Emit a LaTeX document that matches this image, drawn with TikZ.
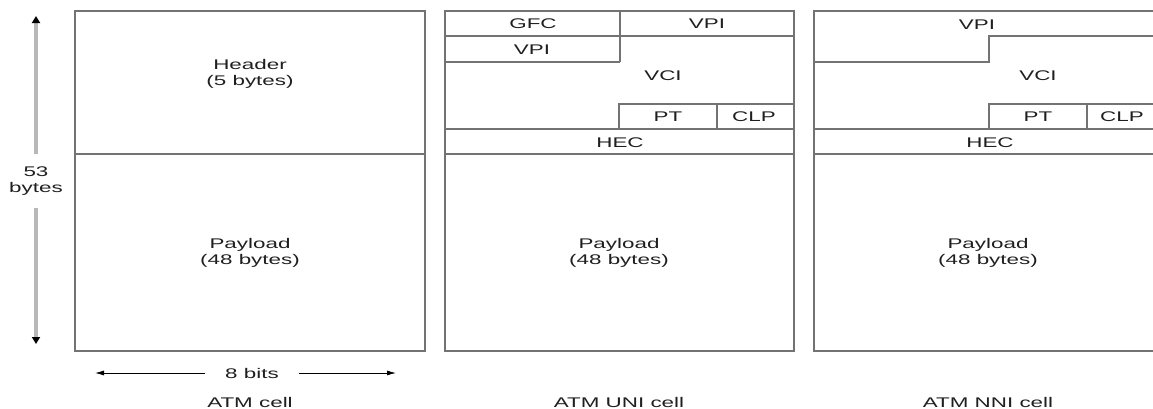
\documentclass[tikz,border=0pt]{standalone}
\usepackage{fontspec}
\usepackage{graphicx}
\setmainfont{Liberation Sans}
\usetikzlibrary{arrows.meta}
\definecolor{boxline}{gray}{0.45}
\definecolor{shaft}{gray}{0.72}
\definecolor{ink}{gray}{0.12}
\newcommand\wt[1]{\scalebox{1.6}[1]{#1}}
\begin{document}
\begin{tikzpicture}[x=1pt,y=-1pt,
  txt/.style={font=\fontsize{14}{16}\selectfont, text=ink, inner sep=0pt, align=center},
  cell/.style={draw=boxline, line width=1.3pt},
  shaftline/.style={draw=shaft, line width=3.5pt, -{Triangle[length=7pt,width=8pt,black]}},
  harrow/.style={draw=black, line width=0.8pt, -{Latex[length=9pt,width=5pt]}}]
\useasboundingbox (0,0) rectangle (1153,408);
\clip (0,0) rectangle (1153,408);

% ATM cell
\draw[cell] (75,11) rectangle (425,351);
\draw[cell] (75,154) -- (425,154);
\node[txt] (hdr) at (250,74) {\wt{Header}\\\wt{(5 bytes)}};
\node[txt] (pl1) at (250,253) {\wt{Payload}\\\wt{(48 bytes)}};
\node[txt] (lab1) at (250,402) {\wt{ATM cell}};

% UNI cell
\draw[cell] (445,11) rectangle (794,351);
\draw[cell] (445,36) -- (794,36);
\draw[cell] (620,11) -- (620,62);
\draw[cell] (445,62) -- (620,62);
\draw[cell] (619,129) -- (619,104) -- (794,104);
\draw[cell] (717,104) -- (717,129);
\draw[cell] (445,129) -- (794,129);
\draw[cell] (445,154) -- (794,154);
\node[txt] (ugfc) at (533,24) {\wt{GFC}};
\node[txt] (uvpi1) at (707,24) {\wt{VPI}};
\node[txt] (uvpi2) at (532,50) {\wt{VPI}};
\node[txt] (uvci) at (663,76) {\wt{VCI}};
\node[txt] (upt) at (668,117) {\wt{PT}};
\node[txt] (uclp) at (754,117) {\wt{CLP}};
\node[txt] (uhec) at (620,143) {\wt{HEC}};
\node[txt] (upl) at (619,253) {\wt{Payload}\\\wt{(48 bytes)}};
\node[txt] (lab2) at (619,402) {\wt{ATM UNI cell}};

% NNI cell
\draw[cell] (814,11) rectangle (1163,351);
\draw[cell] (814,62) -- (989,62) -- (989,36) -- (1163,36);
\draw[cell] (989,129) -- (989,104) -- (1163,104);
\draw[cell] (1087,104) -- (1087,129);
\draw[cell] (814,129) -- (1163,129);
\draw[cell] (814,154) -- (1163,154);
\node[txt] (nvpi) at (977,25) {\wt{VPI}};
\node[txt] (nvci) at (1038,76) {\wt{VCI}};
\node[txt] (npt) at (1038,117) {\wt{PT}};
\node[txt] (nclp) at (1122,117) {\wt{CLP}};
\node[txt] (nhec) at (990,143) {\wt{HEC}};
\node[txt] (npl) at (988,253) {\wt{Payload}\\\wt{(48 bytes)}};
\node[txt] (lab3) at (988,402) {\wt{ATM NNI cell}};

% 53 bytes arrow
\node[txt] (n53) at (36,181) {\wt{53}\\\wt{bytes}};
\coordinate (vtop) at (36,16);
\coordinate (vbot) at (36,344);
\draw[shaftline] ([yshift=12pt]n53.north) -- (vtop);
\draw[shaftline] ([yshift=-12pt]n53.south) -- (vbot);

% 8 bits arrow
\node[txt] (n8) at (252,373) {\wt{8 bits}};
\coordinate (hl) at (95,373);
\coordinate (hr) at (396,373);
\draw[harrow] ([xshift=-20pt]n8.west) -- (hl);
\draw[harrow] ([xshift=20pt]n8.east) -- (hr);
\end{tikzpicture}
\end{document}
